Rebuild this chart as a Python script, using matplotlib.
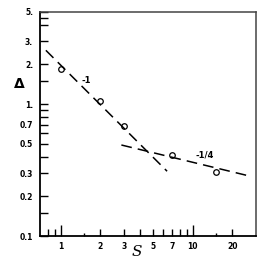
import numpy as np
import matplotlib
matplotlib.use("Agg")
import matplotlib.pyplot as plt

# measured points
s_pts = [1.0, 2.0, 3.0, 7.0, 15.0]
d_pts = [1.84, 1.05, 0.68, 0.41, 0.307]

# fitted dashed lines (end points)
line1_s = [0.77, 6.4]
line1_d = [2.56, 0.31]
line2_s = [2.88, 27.0]
line2_d = [0.49, 0.285]

x_major = [1, 2, 3, 5, 7, 10, 20]
x_major_labels = ["1", "2", "3", "5", "7", "10", "20"]
x_minor = [0.8, 0.9, 4, 6, 8, 9]
x_tiny = [1.5, 15]
y_major = [0.1, 0.2, 0.3, 0.5, 0.7, 1, 2, 3, 5]
y_major_labels = ["0.1", "0.2", "0.3", "0.5", "0.7", "1.", "2.", "3.", "5."]
y_minor = [0.15, 0.4, 0.6, 0.8, 0.9, 1.5, 4, 4.5]

fig = plt.figure(figsize=(2.73, 2.6), dpi=100)
ax = fig.add_axes([40 / 273, 24 / 260, 215.5 / 273, 224 / 260])
ax.set_xscale("log")
ax.set_yscale("log")
ax.set_xlim(0.695, 30)
ax.set_ylim(0.1, 5)

ax.plot(line1_s, line1_d, color="black", lw=1.1, dashes=(7, 4))
ax.plot(line2_s, line2_d, color="black", lw=1.1, dashes=(7, 4))
ax.plot(s_pts, d_pts, "o", mfc="none", mec="black", ms=4, mew=0.9)

ax.text(1.57, 1.52, "-1", fontsize=6, fontweight="bold", ha="center", va="center")
ax.text(12.3, 0.41, "-1/4", fontsize=6, fontweight="bold", ha="center", va="center")

ax.set_xticks(x_major)
ax.set_xticklabels(x_major_labels)
ax.set_xticks(x_minor + x_tiny, minor=True)
ax.set_yticks(y_major)
ax.set_yticklabels(y_major_labels)
ax.set_yticks(y_minor, minor=True)
ax.xaxis.set_minor_formatter(plt.NullFormatter())
ax.yaxis.set_minor_formatter(plt.NullFormatter())

ax.tick_params(axis="both", which="both", direction="in", width=1.0,
               labelsize=5.5, top=False, right=False)
ax.tick_params(axis="x", which="major", length=5, pad=4)
ax.tick_params(axis="x", which="minor", length=5)
ax.tick_params(axis="y", which="major", length=6, pad=5)
ax.tick_params(axis="y", which="minor", length=6)
for t in ax.get_xticklabels() + ax.get_yticklabels():
    t.set_fontweight("bold")

# taller ticks at 1 and 10, short ones at 1.5 and 15
for i, v in enumerate(x_major):
    if v in (1, 10):
        ax.xaxis.get_major_ticks()[i].tick1line.set_markersize(8)
for i, v in enumerate(ax.get_xticks(minor=True)):
    if v in x_tiny:
        ax.xaxis.get_minor_ticks()[i].tick1line.set_markersize(2.5)

for side in ["left", "bottom"]:
    ax.spines[side].set_linewidth(1.3)
for side in ["top", "right"]:
    ax.spines[side].set_linewidth(1.1)
    ax.spines[side].set_color("#444444")

fig.text(137 / 273, 1 - 252 / 260, "S", fontsize=11, family="DejaVu Serif",
         style="italic", ha="center", va="center")
fig.text(19 / 273, 1 - 84 / 260, "Δ", fontsize=10, fontweight="bold",
         ha="center", va="center")

fig.savefig("out.png", dpi=100)
